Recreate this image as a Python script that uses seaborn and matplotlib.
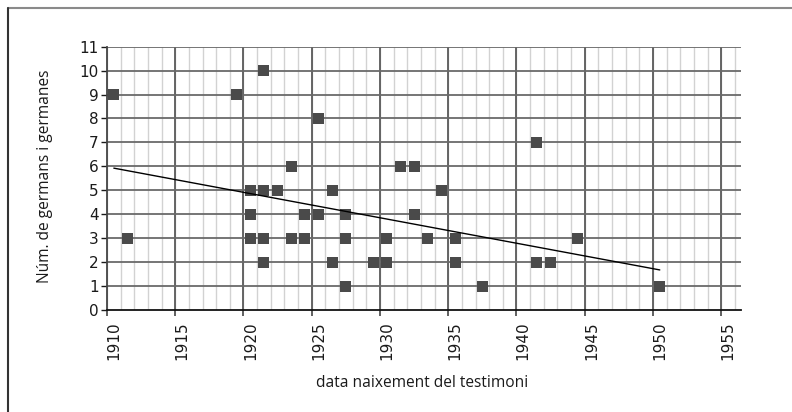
import numpy as np
import pandas as pd
import matplotlib
matplotlib.use("Agg")
import matplotlib.pyplot as plt
import seaborn as sns
from matplotlib.lines import Line2D

# birth year of each witness and number of siblings
years = [1910, 1911, 1919,
         1920, 1920, 1920,
         1921, 1921, 1921, 1921,
         1922, 1923, 1923, 1924, 1924,
         1925, 1925, 1926, 1926,
         1927, 1927, 1927, 1929,
         1930, 1930, 1931, 1932, 1932,
         1933, 1934, 1935, 1935, 1937,
         1941, 1941, 1942, 1944, 1950]
siblings = [9, 3, 9,
            5, 4, 3,
            10, 5, 3, 2,
            5, 6, 3, 4, 3,
            8, 4, 5, 2,
            4, 3, 1, 2,
            3, 2, 6, 6, 4,
            3, 5, 3, 2, 1,
            7, 2, 2, 3, 1]
year_ticks = list(range(1910, 1956, 5))
sib_ticks = list(range(0, 12))

df = pd.DataFrame({"any": years, "germans": siblings})

sns.set_style("white")
plt.rcParams['font.family'] = ['DejaVu Sans']

fig = plt.figure(figsize=(7.92, 4.12), dpi=100)
ax = fig.add_axes([0.1351, 0.2476, 0.8005, 0.6391])

xmin, xmax = 1909.5, 1955.95
ax.set_xlim(xmin, xmax)
ax.set_ylim(0, 11)

# grid: light line every year, darker every 5 years, gray per unit in y
for x in np.arange(1909.5, 1956, 1):
    ax.axvline(x, color="#d2d2d2", lw=1.0, zorder=0)
for x in np.arange(1914.5, 1956, 5):
    ax.axvline(x, color="#5a5a5a", lw=1.3, zorder=0.5)
for y in sib_ticks[1:]:
    ax.axhline(y, color="#6a6a6a", lw=1.3, zorder=0.6)

sns.scatterplot(data=df, x="any", y="germans", marker="s", s=62,
                color="#4a4a4a", edgecolor="none", zorder=3, ax=ax)
sns.regplot(data=df, x="any", y="germans", scatter=False, ci=None,
            truncate=True, color="black", line_kws={"lw": 1.0, "zorder": 4}, ax=ax)

ax.set_xticks(year_ticks)
ax.set_xticklabels([str(y) for y in year_ticks], rotation=90, fontsize=11)
ax.set_xticks(np.arange(1909.5, 1956, 5), minor=True)
ax.tick_params(axis="x", which="major", length=0, pad=8, colors="#1a1a1a")
ax.tick_params(axis="x", which="minor", length=4, width=1.2, color="#444444", bottom=True)
ax.set_yticks(sib_ticks)
ax.tick_params(axis="y", which="major", length=4, width=1.0, pad=2,
               labelsize=11, colors="#1a1a1a", left=True)

for s in ["top", "right"]:
    ax.spines[s].set_visible(False)
ax.spines["left"].set_color("#444444")
ax.spines["left"].set_linewidth(1.3)
ax.spines["bottom"].set_color("#111111")
ax.spines["bottom"].set_linewidth(1.3)

ax.set_xlabel("")
ax.set_ylabel("")
fig.text(0.533, 0.07, "data naixement del testimoni", ha="center", va="center",
         fontsize=11.2, family="Open Sans", color="#1a1a1a")
fig.text(0.057, 0.571, "Núm. de germans i germanes", ha="center", va="center",
         rotation=90, fontsize=11.2, family="Open Sans", color="#1a1a1a")

# frame of the original figure (only top and left edges visible)
fig.add_artist(Line2D([8 / 792, 1], [1 - 8 / 412, 1 - 8 / 412],
                      transform=fig.transFigure, color="#8a8a8a", lw=1.5))
fig.add_artist(Line2D([8 / 792, 8 / 792], [0, 1 - 8 / 412],
                      transform=fig.transFigure, color="#333333", lw=1.5))

fig.savefig("out.png", dpi=100)
